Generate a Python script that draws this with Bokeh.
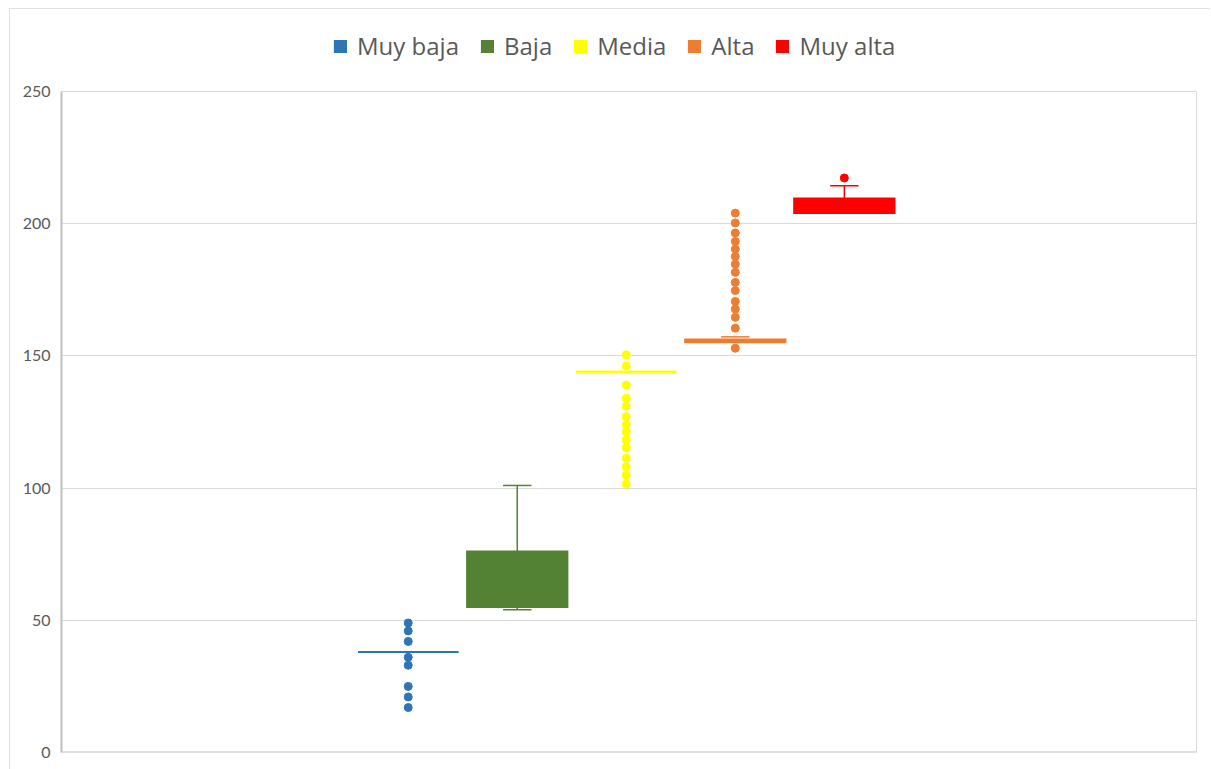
from bokeh.plotting import figure
from bokeh.models import (ColumnDataSource, Range1d, Legend, LegendItem, Span, FixedTicker,
                          LinearAxis)
from bokeh.embed import file_html
from bokeh.resources import INLINE

# ---- data ----
categories = ["Muy baja", "Baja", "Media", "Alta", "Muy alta"]
colors = ["#2E75B6", "#548235", "#FFFF00", "#ED7D31", "#FF0000"]
q1 = [38, 55, 144, 155.2, 204]
median = [38, 62, 144, 155.7, 206]
q3 = [38, 76, 144, 156.2, 209.5]
lower = [38, 54, 144, 155.2, 204]
upper = [38, 101, 144, 157.2, 214.4]
points_muy_baja = [49, 46, 42, 36, 33, 25, 21, 17]
points_baja = []
points_media = [150.4, 146.2, 139, 134, 131, 127, 124, 121.3, 118.2, 115.3, 111.3, 108.1, 105, 101.5]
points_alta = [204, 200.3, 196.5, 193.3, 190.4, 187.6, 184.7, 181.6, 177.8, 174.7, 170.6, 167.7, 164.6, 160.5, 152.9]
points_muy_alta = [217.3]
y_ticks = [0, 50, 100, 150, 200, 250]
y_max = 250

all_points = [points_muy_baja, points_baja, points_media, points_alta, points_muy_alta]

# positions of the series inside the single category group
xpos = [i - 2 for i in range(len(categories))]
BOX_W = 0.92
CAP_W = 0.26

# frame extends above the value axis to host the legend (661 px for 250 units, 730 px total)
p = figure(width=1201, height=761, output_backend="svg", toolbar_location=None,
           x_range=Range1d(-5.18, 5.23), y_range=Range1d(0, y_max * 730 / 661),
           min_border_left=52, min_border_right=14, min_border_top=14, min_border_bottom=17,
           background_fill_color="white", border_fill_color="white")
p.styles = {"margin-left": "9px", "margin-top": "8px",
            "outline": "1px solid #d9d9d9", "outline-offset": "-1px"}

p.outline_line_color = None
p.xaxis.visible = False
p.xgrid.visible = False
p.ygrid.grid_line_color = "#d9d9d9"
p.ygrid.grid_line_width = 1
p.yaxis.ticker = FixedTicker(ticks=y_ticks)
p.yaxis.bounds = (0, y_max)
p.yaxis.major_tick_line_color = None
p.yaxis.minor_tick_line_color = None
p.yaxis.major_tick_out = 0
p.yaxis.major_tick_in = 0
p.yaxis.axis_line_color = "#bfbfbf"
p.yaxis.axis_line_width = 2
p.yaxis.major_label_standoff = 11
p.yaxis.major_label_text_font = "Lato"
p.yaxis.major_label_text_font_size = "16px"
p.yaxis.major_label_text_color = "#595959"

right_axis = LinearAxis(bounds=(0, y_max), ticker=FixedTicker(ticks=[]),
                        axis_line_color="#d9d9d9", major_tick_line_color=None,
                        minor_tick_line_color=None, major_label_text_font_size="0px")
p.add_layout(right_axis, "right")

p.add_layout(Span(location=0, dimension="width", line_color="#bfbfbf", line_width=2))

# whiskers (vertical lines + caps)
wx, wy0, wy1, wc = [], [], [], []
cx0, cx1, cy, cc = [], [], [], []
for i, x in enumerate(xpos):
    if upper[i] > q3[i] + 0.01:
        if upper[i] - q3[i] > 1.5:
            wx.append(x); wy0.append(q3[i]); wy1.append(upper[i]); wc.append(colors[i])
        cx0.append(x - CAP_W / 2); cx1.append(x + CAP_W / 2); cy.append(upper[i]); cc.append(colors[i])
    if lower[i] < q1[i] - 0.01:
        wx.append(x); wy0.append(lower[i]); wy1.append(q1[i]); wc.append(colors[i])
        cx0.append(x - CAP_W / 2); cx1.append(x + CAP_W / 2); cy.append(lower[i]); cc.append(colors[i])

p.segment(x0=wx, y0=wy0, x1=wx, y1=wy1, line_color=wc, line_width=1.5)
p.segment(x0=cx0, y0=cy, x1=cx1, y1=cy, line_color=cc, line_width=1.5)

# boxes
box_src = ColumnDataSource(dict(x=xpos, q1=q1, q3=q3, color=colors))
boxes = p.vbar(x="x", width=BOX_W, bottom="q1", top="q3", source=box_src,
               fill_color="color", line_color="color", line_width=2, line_join="miter")

# medians
p.segment(x0=[x - BOX_W / 2 for x in xpos], y0=median, x1=[x + BOX_W / 2 for x in xpos], y1=median,
          line_color=colors, line_width=2)

# points
for i, pts in enumerate(all_points):
    if pts:
        p.scatter(x=[xpos[i]] * len(pts), y=pts, size=8, fill_color=colors[i], line_color=colors[i])

legend = Legend(items=[LegendItem(label=c, renderers=[boxes], index=i) for i, c in enumerate(categories)],
                orientation="horizontal", location=(272, 690),
                label_text_font="Open Sans", label_text_font_size="24px", label_text_color="#595959",
                glyph_width=14, glyph_height=14, label_height=28, label_standoff=10, spacing=21,
                padding=0, margin=0, border_line_color=None, background_fill_alpha=0)
p.add_layout(legend)

open("out.html", "w").write(file_html(p, INLINE))
